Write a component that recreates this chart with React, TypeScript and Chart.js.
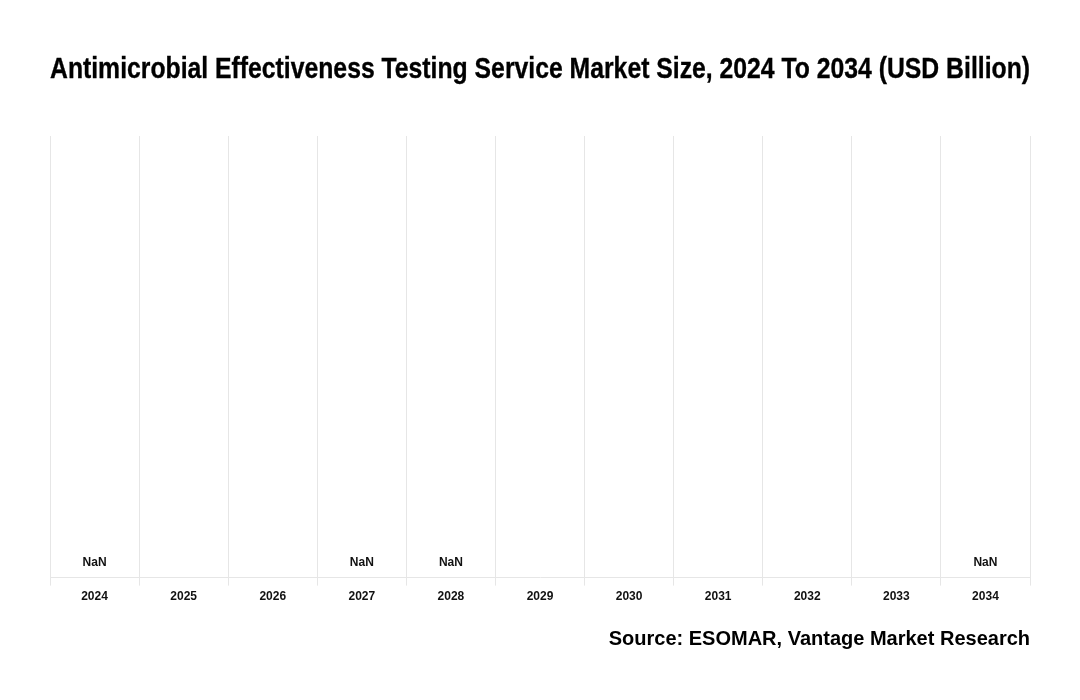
import React, { useEffect, useRef } from "react";
import { Chart, registerables } from "chart.js";

Chart.register(...registerables);

const categories = ["2024", "2025", "2026", "2027", "2028", "2029", "2030", "2031", "2032", "2033", "2034"];
const marketSize: (number | null)[] = [NaN, null, null, NaN, NaN, null, null, null, null, null, NaN];
const titleText = "Antimicrobial Effectiveness Testing Service Market Size, 2024 To 2034 (USD Billion)";
const sourceText = "Source: ESOMAR, Vantage Market Research";

const valueLabels = {
  id: "valueLabels",
  afterDatasetsDraw(chart: any) {
    const { ctx, scales } = chart;
    const xs = scales.x;
    const ys = scales.y;
    const data = chart.data.datasets[0].data as (number | null)[];
    ctx.save();
    ctx.font = "bold 12px 'Liberation Sans', Arial, sans-serif";
    ctx.fillStyle = "#111";
    ctx.textAlign = "center";
    ctx.textBaseline = "middle";
    data.forEach((v, i) => {
      if (v === null) return;
      const x = xs.getPixelForValue(i);
      const base = ys.getPixelForValue(0);
      const y = isNaN(v) ? base - 15 : ys.getPixelForValue(v) - 15;
      ctx.fillText(String(v), x, y);
    });
    ctx.restore();
  },
};

const narrowTitle = {
  id: "narrowTitle",
  afterDraw(chart: any) {
    const { ctx, chartArea } = chart;
    ctx.save();
    ctx.font = "bold 29px 'Liberation Sans', Arial, sans-serif";
    ctx.fillStyle = "#000";
    ctx.strokeStyle = "#000";
    ctx.lineWidth = 0.35;
    ctx.textBaseline = "middle";
    ctx.textAlign = "left";
    const w = ctx.measureText(titleText).width;
    const target = chartArea.right - chartArea.left;
    const sx = target / w;
    ctx.translate(chartArea.left, 69.5);
    ctx.scale(sx, 1);
    ctx.fillText(titleText, 0, 0);
    ctx.strokeText(titleText, 0, 0);
    ctx.restore();
  },
};

export default function App() {
  const ref = useRef<HTMLCanvasElement | null>(null);
  useEffect(() => {
    if (!ref.current) return;
    const chart = new Chart(ref.current, {
      type: "bar",
      data: {
        labels: categories,
        datasets: [
          {
            label: "Market Size",
            data: marketSize as any,
            backgroundColor: "#1f4e79",
          },
        ],
      },
      options: {
        animation: false,
        responsive: false,
        maintainAspectRatio: false,
        layout: { padding: { left: 50, right: 50, top: 136, bottom: 30 } },
        plugins: {
          legend: { display: false },
          tooltip: { enabled: false },
          title: { display: false },
          subtitle: {
            display: true,
            text: sourceText,
            position: "bottom",
            align: "end",
            color: "#000",
            font: { family: "'Liberation Sans', Arial, sans-serif", size: 20, weight: "bold" },
            padding: { top: 19, bottom: 19 },
          },
        },
        scales: {
          x: {
            grid: { display: true, color: "#e6e6e6", tickLength: 8, offset: true },
            border: { display: true, color: "#e6e6e6" },
            ticks: {
              color: "#111",
              padding: 4,
              font: { family: "'Liberation Sans', Arial, sans-serif", size: 12, weight: "bold" },
            },
          },
          y: {
            display: false,
            min: 0,
            max: 1,
          },
        },
      },
      plugins: [valueLabels, narrowTitle],
    });
    return () => chart.destroy();
  }, []);
  return (
    <div style={{ position: "fixed", left: 0, top: 0, width: 1080, height: 700, background: "#fff" }}>
      <canvas ref={ref} width={1080} height={700} style={{ width: 1080, height: 700 }} />
    </div>
  );
}
